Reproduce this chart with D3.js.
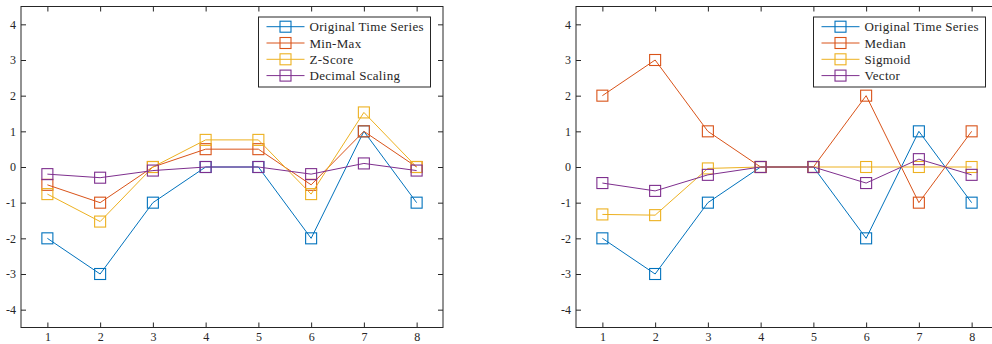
<!DOCTYPE html>
<html lang="en">
<head>
<meta charset="UTF-8">
<script src="https://d3js.org/d3.v7.min.js"></script>
<title>Normalisation</title>
<style>
  body { margin: 0; background: #fff; }
  svg text { font-family: "Liberation Serif", "DejaVu Serif", serif !important; fill: #262626; }
</style>
</head>
<body>
<div id="canvas"></div>
<script>
// data
const steps = [1, 2, 3, 4, 5, 6, 7, 8]
const original = [-2, -3, -1, 0, 0, -2, 1, -1]
const minMax = [-0.5, -1, 0, 0.5, 0.5, -0.5, 1, 0]
const zScore = [-0.76, -1.53, 0, 0.76, 0.76, -0.76, 1.53, 0]
const decimalScaling = [-0.2, -0.3, -0.1, 0, 0, -0.2, 0.1, -0.1]
const median = [2, 3, 1, 0, 0, 2, -1, 1]
const sigmoid = [-1.33, -1.35, -0.04, 0, 0, 0, 0, 0]
const vector = [-0.45, -0.67, -0.22, 0, 0, -0.45, 0.22, -0.22]
const yTicks = [-4, -3, -2, -1, 0, 1, 2, 3, 4]

const colors = ["#0072BD", "#D95319", "#EDB120", "#7E2F8E"]

const panels = [
  {left: 21, series: [["Original Time Series", original], ["Min-Max", minMax], ["Z-Score", zScore], ["Decimal Scaling", decimalScaling]]},
  {left: 576, series: [["Original Time Series", original], ["Median", median], ["Sigmoid", sigmoid], ["Vector", vector]]}
]

const W = 992, H = 344
const plotW = 422, plotTop = 6.5, plotBottom = 327.5
const svg = d3.select("#canvas").append("svg").attr("width", W).attr("height", H)

panels.forEach(p => {
  const x = d3.scaleLinear().domain([0.5, 8.5]).range([p.left, p.left + plotW])
  const y = d3.scaleLinear().domain([-4.5, 4.5]).range([plotBottom, plotTop])
  const g = svg.append("g")

  // ticks on all four sides, pointing inwards
  const axL = g.append("g").attr("transform", `translate(${p.left},0)`)
    .call(d3.axisLeft(y).tickValues(yTicks).tickSize(-5).tickSizeOuter(0).tickPadding(5).tickFormat(d3.format("d")))
  const axB = g.append("g").attr("transform", `translate(0,${plotBottom})`)
    .call(d3.axisBottom(x).tickValues(steps).tickSize(-5).tickSizeOuter(0).tickPadding(5).tickFormat(d3.format("d")))
  const axR = g.append("g").attr("transform", `translate(${p.left + plotW},0)`)
    .call(d3.axisRight(y).tickValues(yTicks).tickSize(-5).tickSizeOuter(0).tickFormat(""))
  const axT = g.append("g").attr("transform", `translate(0,${plotTop})`)
    .call(d3.axisTop(x).tickValues(steps).tickSize(-5).tickSizeOuter(0).tickFormat(""))
  ;[axL, axB, axR, axT].forEach(a => {
    a.attr("font-family", null)
    a.select(".domain").remove()
    a.selectAll("line").attr("stroke", "#262626")
    a.selectAll("text").attr("font-size", 12).attr("fill", "#262626")
  })
  axL.selectAll("text").text(d => d < 0 ? "-" + Math.abs(d) : d)

  g.append("rect")
    .attr("x", p.left).attr("y", plotTop)
    .attr("width", plotW).attr("height", plotBottom - plotTop)
    .attr("fill", "none").attr("stroke", "#262626").attr("stroke-width", 1)

  const line = d3.line().x((d, i) => x(steps[i])).y(d => y(d))
  p.series.forEach(([name, vals], k) => {
    g.append("path").datum(vals)
      .attr("fill", "none").attr("stroke", colors[k]).attr("stroke-width", 1)
      .attr("d", line)
    g.selectAll(null).data(vals).enter().append("rect")
      .attr("x", (d, i) => x(steps[i]) - 5.5)
      .attr("y", d => y(d) - 5.5)
      .attr("width", 11).attr("height", 11)
      .attr("fill", "none").attr("stroke", colors[k]).attr("stroke-width", 1.1)
  })

  // legend
  const lw = 172, lh = 70
  const lx = p.left + plotW - 12.5 - lw, ly = 17
  const lg = g.append("g").attr("transform", `translate(${lx},${ly})`)
  lg.append("rect").attr("width", lw).attr("height", lh)
    .attr("fill", "#fff").attr("stroke", "#262626").attr("stroke-width", 1)
  p.series.forEach(([name], k) => {
    const ry = 9.7 + k * 16.3
    lg.append("line").attr("x1", 8).attr("x2", 46).attr("y1", ry).attr("y2", ry)
      .attr("stroke", colors[k]).attr("stroke-width", 1)
    lg.append("rect").attr("x", 27 - 5.5).attr("y", ry - 5.5).attr("width", 11).attr("height", 11)
      .attr("fill", "none").attr("stroke", colors[k]).attr("stroke-width", 1.1)
    lg.append("text").attr("x", 51).attr("y", ry).attr("dy", "0.35em")
      .attr("font-size", 13).style("letter-spacing", "0.3px")
      .text(name)
  })
})
</script>
</body>
</html>
